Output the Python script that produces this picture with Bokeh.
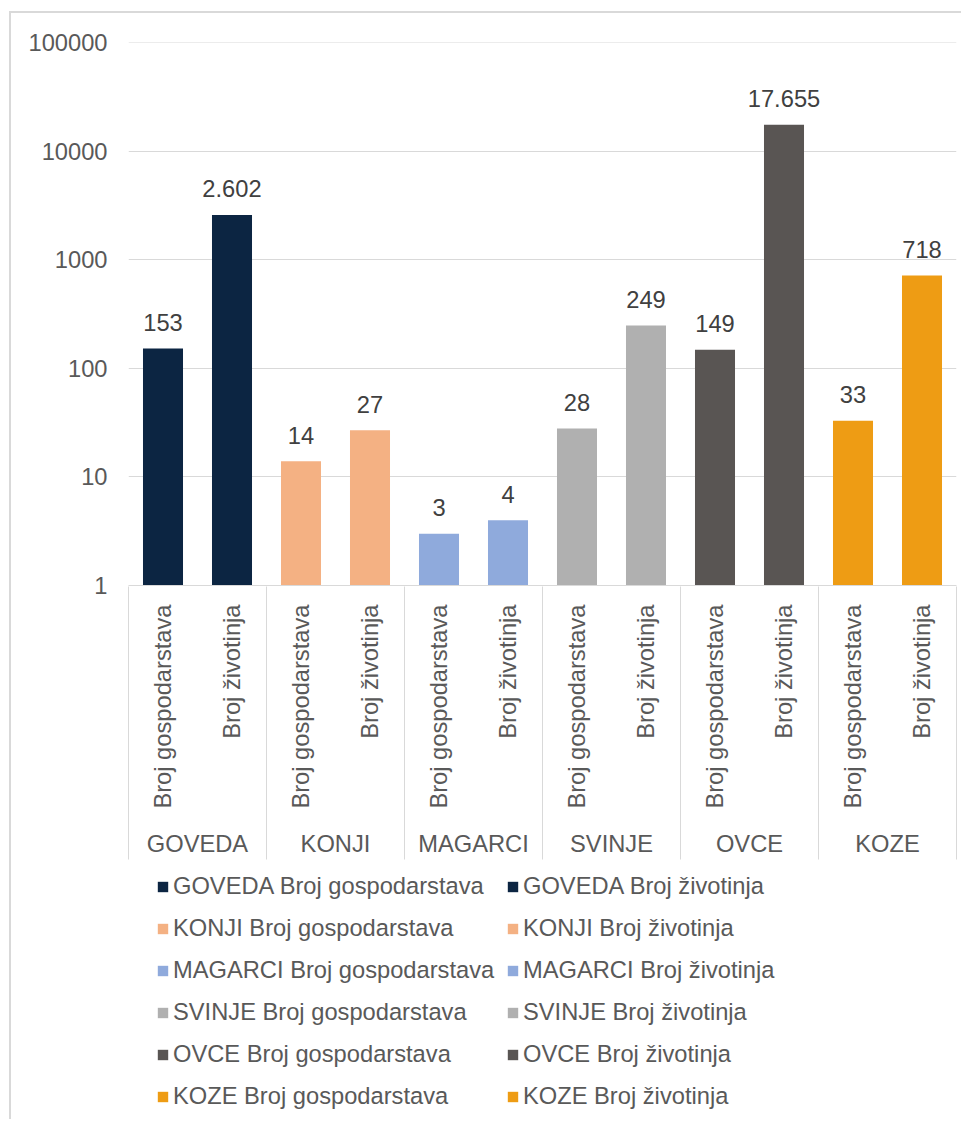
import math
from bokeh.plotting import figure
from bokeh.layouts import column
from bokeh.models import (FactorRange, Range1d, LinearAxis, FixedTicker, PrintfTickFormatter,
                          CustomJSTickFormatter, ColumnDataSource, Legend, LegendItem)
from bokeh.core.properties import value
from bokeh.embed import file_html
from bokeh.resources import INLINE

groups = ["GOVEDA", "KONJI", "MAGARCI", "SVINJE", "OVCE", "KOZE"]
subcats = ["Broj gospodarstava", "Broj životinja"]
gospodarstva = [153, 14, 3, 28, 149, 33]
zivotinje = [2602, 27, 4, 249, 17655, 718]
colors = ["#0C2542", "#F4B183", "#8FAADC", "#B0B0B0", "#595553", "#EE9C14"]
y_ticks = [1, 10, 100, 1000, 10000, 100000]

x, top, col, lab, leg = [], [], [], [], []
for g, c, a, b in zip(groups, colors, gospodarstva, zivotinje):
    for s, v in zip(subcats, (a, b)):
        x.append((g, s))
        top.append(v)
        col.append(c)
        lab.append(f"{v:,}".replace(",", "."))
        leg.append(f"{g} {s}")
src = ColumnDataSource(dict(x=x, top=top, color=col, label=lab, leg=leg))

FONT = "Liberation Sans"
FS = "23.7px"
TXT = "#595959"
GRID = "#d9d9d9"

p = figure(width=950, height=852,
           x_range=FactorRange(factors=x, factor_padding=0, group_padding=0, range_padding=0),
           y_axis_type="log", y_range=Range1d(1, 101000),
           output_backend="svg", toolbar_location=None,
           min_border_left=117, min_border_right=5, min_border_top=29, min_border_bottom=280)
p.outline_line_color = None
p.xgrid.visible = False
p.ygrid.grid_line_color = GRID
p.ygrid.grid_line_width = 1

r = p.vbar(x="x", top="top", bottom=1, width=0.58, fill_color="color", line_color=None, source=src)
p.text(x="x", y="top", text="label", source=src, text_align="center", text_baseline="alphabetic",
       y_offset=-26, text_font=value(FONT), text_font_size=value(FS), text_color="#404040")

ya = p.yaxis[0]
ya.ticker = FixedTicker(ticks=y_ticks, minor_ticks=[])
ya.formatter = PrintfTickFormatter(format="%d")
ya.axis_line_color = None
ya.major_tick_line_color = None
ya.major_tick_out = 0
ya.major_tick_in = 0
ya.major_label_standoff = 21
ya.major_label_text_font = FONT
ya.major_label_text_font_size = FS
ya.major_label_text_color = TXT

xa = p.xaxis[0]
xa.axis_line_color = GRID
xa.major_tick_line_color = None
xa.major_tick_out = 0
xa.major_tick_in = 0
xa.major_label_orientation = math.pi / 2
xa.major_label_standoff = 19
xa.major_label_text_font = FONT
xa.major_label_text_font_size = FS
xa.major_label_text_color = TXT
xa.group_text_font = FONT
xa.group_text_font_size = FS
xa.group_text_font_style = "normal"
xa.group_text_color = TXT
xa.separator_line_color = None

# group separator lines: ticks at group boundaries (synthetic coordinates)
ax2 = LinearAxis(ticker=FixedTicker(ticks=list(range(0, len(x) + 1, 2)), minor_ticks=[]),
                 formatter=CustomJSTickFormatter(code="return ''"),
                 axis_line_color=None, major_tick_in=273, major_tick_out=0,
                 major_tick_line_color=GRID, major_label_standoff=0,
                 major_label_text_font_size="0px")
p.add_layout(ax2, "below")

# legend figure (zero-width copy of the bars; only the legend shows)
p2 = figure(width=950, height=254,
            x_range=FactorRange(factors=x, factor_padding=0, group_padding=0, range_padding=0),
            y_range=Range1d(-2, -1), x_axis_type=None, y_axis_type=None,
            output_backend="svg", toolbar_location=None,
            min_border_left=0, min_border_right=0, min_border_top=0, min_border_bottom=0)
p2.outline_line_color = None
p2.grid.visible = False
r2 = p2.vbar(x="x", top="top", bottom=1, width=0, fill_color="color", line_color=None, source=src)

items = [LegendItem(label=leg[i], renderers=[r2], index=i) for i in range(len(x))]
legend = Legend(items=items, orientation="horizontal", ncols=2, location=(28, 2),
                margin=0, padding=0, spacing=0, label_height=42, label_width=333,
                glyph_width=13, glyph_height=13,
                label_standoff=4, label_text_font=FONT, label_text_font_size=FS,
                label_text_color=TXT, background_fill_alpha=0, border_line_color=None)
p2.add_layout(legend)

layout = column(p, p2, spacing=0)
layout.styles = {"border-left": "2px solid #d9d9d9", "border-top": "2px solid #d9d9d9",
                 "margin-left": "9px", "margin-top": "11px"}

open("out.html", "w").write(file_html(layout, INLINE))
